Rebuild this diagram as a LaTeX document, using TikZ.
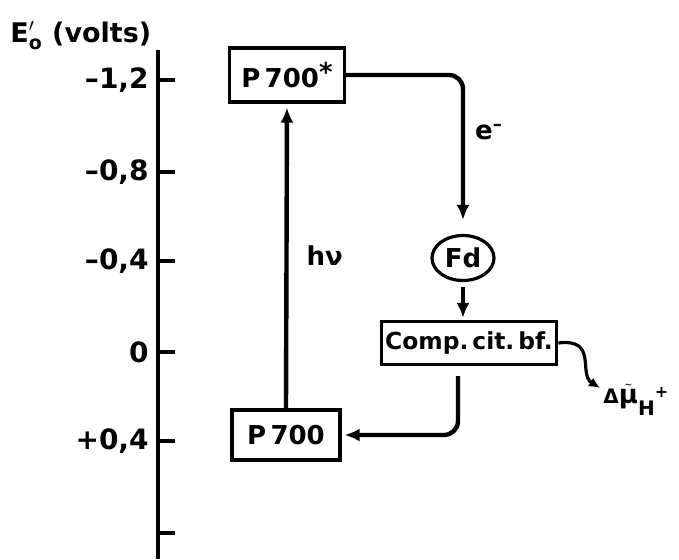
\documentclass[tikz,border=0pt]{standalone}
\usepackage{amsmath}
\usepackage{fontspec}
\setmainfont{DejaVu Sans}
\usetikzlibrary{arrows.meta,shapes.geometric}

\begin{document}
\begin{tikzpicture}[x=0.5pt,y=-0.5pt,
  box/.style={draw, line width=1.6pt, inner sep=2pt, align=center, font=\bfseries\fontsize{13}{15}\selectfont},
  lab/.style={font=\bfseries\fontsize{13}{15}\selectfont, inner sep=0pt},
  arrow/.style={-{Latex[length=7.5pt,width=6.5pt]}, line width=2.2pt, rounded corners=7pt},
  wave/.style={-{Latex[length=5.5pt,width=5pt]}, line width=1.6pt},
  axis/.style={line width=1.6pt}
]
\useasboundingbox (0,0) rectangle (679,559);
% potential scale
\draw[axis] (158,50) -- (158,559);
\foreach \y/\t in {80/{–1,2}, 172/{–0,8}, 261/{–0,4}, 352/{0}, 441/{+0,4}} {
  \draw[axis] (158,\y) -- (175,\y);
  \node[lab, font=\bfseries\fontsize{14}{16}\selectfont, anchor=east] (tick\y) at (149,\y) {\t};
}
\draw[axis] (158,533) -- (175,533);
\node[lab, font=\bfseries\fontsize{13.5}{16}\selectfont, anchor=base west] (Eaxis) at (10,42) {E\(\mathstrut'_{\text{o}}\) (volts)};
% carriers
\node[box, minimum width=57.5pt, minimum height=27pt] (P700s) at (287,75) {P\,700\raisebox{3pt}{*}};
\node[box, minimum width=54pt, minimum height=25pt] (P700) at (286,435) {P\,700};
\node[box, ellipse, minimum width=31pt, minimum height=22.5pt, inner sep=0pt] (Fd) at (463,258) {Fd};
\node[box, minimum width=84pt, minimum height=21.5pt, font=\bfseries\fontsize{11.7}{13}\selectfont] (Comp) at (469,343) {Comp.\,cit.\,bf.};
\node[lab, anchor=west] (dmu) at (603,400) {\fontsize{10}{12}\selectfont Δ\(\tilde{\text{\fontsize{13}{15}\selectfont μ}}\)\raisebox{-6pt}{H}\raisebox{3pt}{\fontsize{8}{8}\selectfont +}};
\coordinate (dmutip) at (600,388);
% electron path
\draw[arrow, shorten >=2pt] (P700.north) -- node[lab, right=9pt, pos=0.5] (hnu) {hν} (P700s.south);
\draw[arrow, shorten >=7pt] (P700s.east) -| node[lab, right=5pt, pos=0.68] (elec) {e\textsuperscript{–}} (Fd.north);
\draw[arrow, shorten <=2.5pt, shorten >=1pt] (Fd.south) -- (Comp.north -| Fd.south);
\draw[arrow, shorten <=5pt, shorten >=1.5pt] ([xshift=-5.5pt]Comp.south) |- (P700.east);
\draw[wave] (Comp.east) .. controls (598,338) and (578,374) .. (dmutip);
\end{tikzpicture}
\end{document}
